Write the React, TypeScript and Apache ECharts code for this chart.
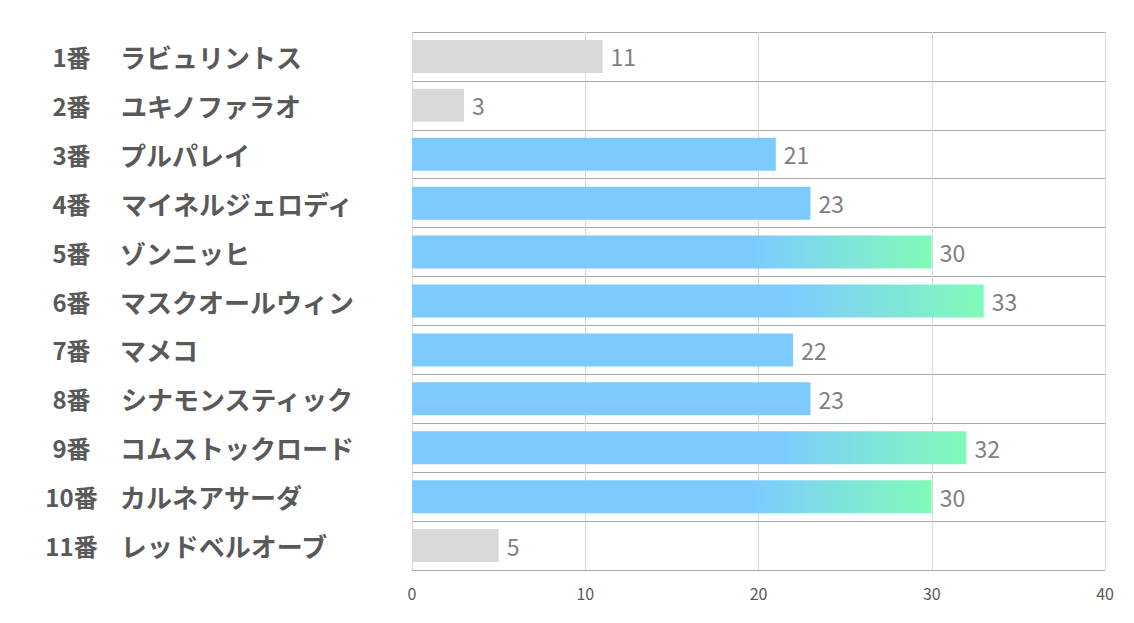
import React, { useEffect, useRef } from "react";
import * as echarts from "echarts";

const nums = ["1番", "2番", "3番", "4番", "5番", "6番", "7番", "8番", "9番", "10番", "11番"];
const names = ["ラビュリントス", "ユキノファラオ", "プルパレイ", "マイネルジェロディ", "ゾンニッヒ", "マスクオールウィン", "マメコ", "シナモンスティック", "コムストックロード", "カルネアサーダ", "レッドベルオーブ"];
const values = [11, 3, 21, 23, 30, 33, 22, 23, 32, 30, 5];
const kinds = ["gray", "gray", "blue", "blue", "grad", "grad", "blue", "blue", "grad", "grad", "gray"];
const xTicks = [0, 10, 20, 30, 40];

const BLUE = "#7DCBFE";
const GREEN = "#80FBB8";
const GRAY = "#D9D9D9";

export default function App() {
  const ref = useRef<HTMLDivElement>(null);
  useEffect(() => {
    if (!ref.current) return;
    const chart = echarts.init(ref.current, undefined, { renderer: "svg" });
    const cats = nums.map((n, i) => n + "|" + names[i]);
    const data = values.map((v, i) => {
      const k = kinds[i];
      let color: any = BLUE;
      if (k === "gray") color = GRAY;
      else if (k === "grad")
        color = new echarts.graphic.LinearGradient(0, 0, 1, 0, [
          { offset: 0, color: BLUE },
          { offset: 0.66, color: BLUE },
          { offset: 1, color: GREEN },
        ]);
      return { value: v, itemStyle: { color } };
    });
    chart.setOption({
      animation: false,
      grid: { left: 412, right: 29, top: 32, bottom: 53, containLabel: false },
      xAxis: {
        type: "value",
        min: xTicks[0],
        max: xTicks[xTicks.length - 1],
        interval: 10,
        axisLine: { show: false },
        axisTick: { show: false },
        splitLine: { show: true, lineStyle: { color: "#D9D9D9", width: 1 } },
        axisLabel: {
          margin: 15,
          color: "#595959",
          fontSize: 16,
          fontFamily: "Noto Sans CJK JP",
        },
      },
      yAxis: {
        type: "category",
        inverse: true,
        data: cats,
        axisLine: { show: false },
        axisTick: { show: false },
        splitLine: { show: true, lineStyle: { color: "#A6A6A6", width: 1 } },
        axisLabel: {
          align: "left",
          margin: 372,
          formatter: (val: string) => {
            const [n, nm] = val.split("|");
            return "{num|" + n + "}{name|" + nm + "}";
          },
          rich: {
            num: {
              width: 63,
              align: "right",
              fontSize: 24,
              fontWeight: "bold",
              color: "#595959",
              fontFamily: "Noto Sans CJK JP",
            },
            name: {
              padding: [0, 0, 0, 17],
              fontSize: 26,
              fontWeight: "bold",
              color: "#595959",
              fontFamily: "Noto Sans CJK JP",
            },
          },
        },
      },
      series: [
        {
          type: "bar",
          data,
          barWidth: 33,
          label: {
            show: true,
            position: "right",
            distance: 8,
            color: "#7F7F7F",
            fontSize: 23,
            fontFamily: "Noto Sans CJK JP",
          },
        },
      ],
    });
    return () => chart.dispose();
  }, []);
  return <div ref={ref} style={{ width: 1134, height: 623, position: "absolute", left: 0, top: 0 }} />;
}
